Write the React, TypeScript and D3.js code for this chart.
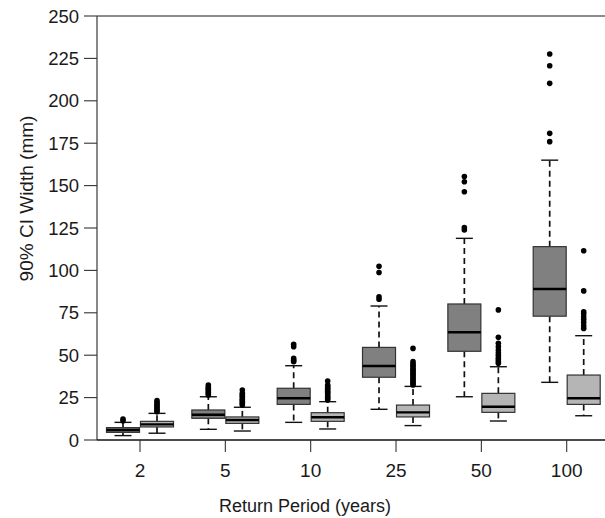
import React from "react";
import * as d3 from "d3";

// Return periods (years) on the x axis
const categories = ["2", "5", "10", "25", "50", "100"];

// Box statistics per return period: [lower whisker, Q1, median, Q3, upper whisker]
const darkStats: number[][] = [
  [2.6, 4.5, 5.9, 7.3, 10.4],
  [6.3, 12.8, 14.9, 17.7, 25.5],
  [10.4, 21.0, 24.6, 30.5, 43.8],
  [18.1, 37.0, 43.6, 54.6, 79.0],
  [25.5, 52.3, 63.5, 80.2, 118.9],
  [34.0, 73.0, 89.0, 114.0, 165.0],
];

const lightStats: number[][] = [
  [4.0, 7.7, 9.2, 11.0, 15.7],
  [5.3, 9.8, 11.8, 13.6, 19.3],
  [6.5, 11.0, 13.4, 16.1, 22.6],
  [8.5, 13.6, 16.3, 20.6, 31.6],
  [11.2, 16.3, 19.6, 27.5, 43.2],
  [14.3, 21.0, 24.6, 38.3, 61.5],
];

// Outlying values beyond the whiskers
const darkOutliers: number[][] = [
  [11.3, 12.4],
  [26.5, 27.2, 28.0, 28.9, 29.7, 30.4, 31.3, 32.4],
  [46.2, 47.0, 48.1, 55.0, 56.4],
  [83.0, 84.5, 98.8, 102.4],
  [123.8, 125.2, 146.4, 152.3, 155.3],
  [175.9, 180.8, 210.3, 220.7, 227.6],
];

const lightOutliers: number[][] = [
  [16.7, 17.4, 18.3, 19.1, 20.2, 21.0, 22.1, 23.2],
  [20.6, 21.3, 22.2, 23.1, 23.9, 24.7, 25.8, 26.6, 27.5, 29.5],
  [23.6, 24.5, 25.3, 26.1, 27.2, 28.0, 28.8, 29.9, 30.7, 31.6, 32.4, 34.8],
  [32.4, 33.2, 34.1, 35.1, 36.0, 36.8, 37.9, 38.7, 39.5, 40.6, 41.4, 42.2, 43.3, 44.1, 45.0, 46.2, 54.0],
  [45.2, 46.3, 47.4, 48.5, 50.0, 51.4, 53.1, 55.0, 57.0, 60.6, 76.7],
  [65.8, 67.4, 69.3, 71.0, 72.7, 74.4, 75.6, 87.9, 111.6],
];

const yTicks = [0, 25, 50, 75, 100, 125, 150, 175, 200, 225, 250];

const W = 605;
const H = 518;
const left = 97;
const top = 16;
const bottom = 440;
const boxW = 34;

const FONT = "'Liberation Sans', Arial, Helvetica, sans-serif";

export default function App() {
  const y = d3.scaleLinear().domain([0, 250]).range([bottom, top]);
  const x = d3.scalePoint<string>().domain(categories).range([140, 566.7]);

  const renderBox = (
    stats: number[],
    outliers: number[],
    x0: number,
    fill: string,
    key: string
  ) => {
    const [lo, q1, med, q3, hi] = stats;
    const cx = x0 + boxW / 2;
    const cap = boxW / 4;
    return (
      <g key={key}>
        {/* whiskers */}
        <line x1={cx} x2={cx} y1={y(q3)} y2={y(hi)} stroke="#111" strokeWidth={1.7} strokeDasharray="6,4" />
        <line x1={cx} x2={cx} y1={y(q1)} y2={y(lo)} stroke="#111" strokeWidth={1.7} strokeDasharray="6,4" />
        <line x1={cx - cap} x2={cx + cap} y1={y(hi)} y2={y(hi)} stroke="#111" strokeWidth={1.4} />
        <line x1={cx - cap} x2={cx + cap} y1={y(lo)} y2={y(lo)} stroke="#111" strokeWidth={1.4} />
        {/* box */}
        <rect
          x={x0 + 0.5}
          y={y(q3)}
          width={boxW - 1}
          height={y(q1) - y(q3)}
          fill={fill}
          stroke="#333"
          strokeWidth={1.2}
        />
        <line x1={x0 + 0.5} x2={x0 + boxW - 0.5} y1={y(med)} y2={y(med)} stroke="#000" strokeWidth={2.4} />
        {outliers.map((v, i) => (
          <circle key={i} cx={cx} cy={y(v)} r={2.8} fill="#000" />
        ))}
      </g>
    );
  };

  return (
    <svg
      width={W}
      height={H}
      style={{ position: "absolute", left: 0, top: 0, background: "#fff" }}
      fontFamily={FONT}
    >
      {/* frame */}
      <line x1={left} x2={W} y1={top} y2={top} stroke="#666" strokeWidth={1.6} />
      <line x1={left} x2={left} y1={top} y2={bottom} stroke="#555" strokeWidth={1.4} />
      <line x1={left} x2={W} y1={bottom} y2={bottom} stroke="#111" strokeWidth={1.4} />

      {/* y axis */}
      {yTicks.map((t) => (
        <g key={t}>
          <line x1={left - 13} x2={left} y1={y(t)} y2={y(t)} stroke="#333" strokeWidth={1.1} />
          <text x={left - 18} y={y(t)} dy="0.36em" textAnchor="end" fontSize={18.5} fill="#1a1a1a">
            {t}
          </text>
        </g>
      ))}
      <text
        transform={`translate(26,${(112 + 285) / 2}) rotate(-90)`}
        textAnchor="middle"
        dy="0.36em"
        fontSize={19}
        fill="#1a1a1a"
      >
        90% CI Width (mm)
      </text>

      {/* x axis */}
      {categories.map((c) => (
        <g key={c}>
          <line x1={x(c)!} x2={x(c)!} y1={bottom} y2={bottom + 12} stroke="#333" strokeWidth={1.1} />
          <text x={x(c)!} y={477} textAnchor="middle" fontSize={19} fill="#1a1a1a">
            {c}
          </text>
        </g>
      ))}
      <text x={305} y={512} textAnchor="middle" fontSize={18} fill="#1a1a1a">
        Return Period (years)
      </text>

      {/* boxes */}
      {categories.map((c, i) => (
        <g key={c}>
          {renderBox(darkStats[i], darkOutliers[i], x(c)! - boxW, "#808080", "d" + c)}
          {renderBox(lightStats[i], lightOutliers[i], x(c)!, "#b5b5b5", "l" + c)}
        </g>
      ))}
    </svg>
  );
}
